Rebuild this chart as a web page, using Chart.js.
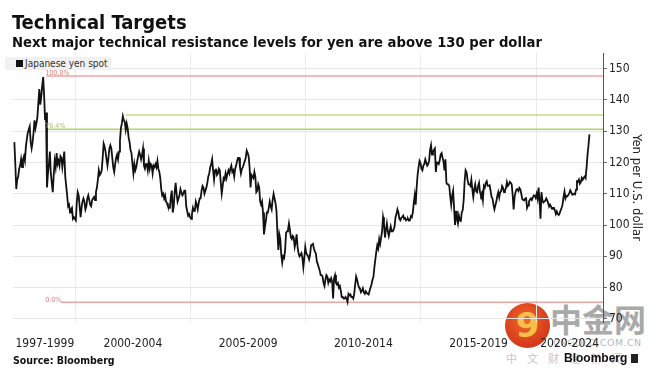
<!DOCTYPE html>
<html>
<head>
<meta charset="utf-8">
<script src="https://cdn.jsdelivr.net/npm/chart.js@4/dist/chart.umd.min.js"></script>
<style>
  body { margin: 0; background: #fff; }
  #wrap { position: relative; width: 661px; height: 375px; overflow: hidden; background: #fff; font-family: "DejaVu Sans Condensed", "DejaVu Sans", sans-serif; }
  #chart { position: absolute; left: 0; top: 0; z-index: 2; }
  .txt { position: absolute; white-space: nowrap; z-index: 3; }
  #title { left: 12px; top: 12px; font-size: 20px; line-height: 20px; font-weight: bold; color: #111; }
  #subtitle { left: 12px; top: 35px; font-size: 14.7px; line-height: 14px; font-weight: bold; color: #111; }
  #source { left: 13px; top: 355px; font-size: 10.5px; line-height: 11px; font-weight: bold; color: #111; }
  #legend { position: absolute; left: 5px; top: 57px; width: 106px; height: 13px; background: #f1f1f1; z-index: 3; }
  #legend .sq { position: absolute; left: 11px; top: 3px; width: 7px; height: 7px; background: #111; }
  #legend .lb { position: absolute; left: 20px; top: 1px; font-size: 10px; line-height: 11px; color: #333; }
  .wm { position: absolute; white-space: nowrap; z-index: 1; }
  #logo { left: 505px; top: 303px; width: 45px; height: 45px; border-radius: 50%;
          background: radial-gradient(circle at 45% 40%, #ef6a2a, #d5381b 70%); }
  #logo span { position: absolute; left: 0; top: 2px; width: 45px; text-align: center; font: bold 34px/40px "DejaVu Sans", sans-serif; color: #f8c04a; }
  #zjw { left: 550px; top: 301px; font: bold 32px/34px "Noto Sans CJK SC", sans-serif; color: #a9a9a9; }
  #dom { left: 553px; top: 338px; font: 9.5px/10px "DejaVu Sans", sans-serif; color: #b9b9b9; letter-spacing: 0.4px; }
  #cjk { left: 506px; top: 352px; font: 11px/12px "Noto Sans CJK SC", sans-serif; color: #c6c6c6; letter-spacing: 10px; }
  #bbg { left: 564px; top: 352px; font: bold 12px/13px "Liberation Sans", Arial, sans-serif; color: #111; z-index: 3; }
  #bbgIcon { position: absolute; left: 631px; top: 354px; width: 7px; height: 9px; background: #222; z-index: 3; }
</style>
</head>
<body>
<div id="wrap">
  <div id="logo" class="wm"><span>9</span></div>
  <div id="zjw" class="wm">中金网</div>
  <div id="dom" class="wm">CNGOLD.COM.CN</div>
  <div id="cjk" class="wm">中文财经新闻</div>
  <canvas id="chart" width="661" height="375"></canvas>
  <div id="title" class="txt">Technical Targets</div>
  <div id="subtitle" class="txt">Next major technical resistance levels for yen are above 130 per dollar</div>
  <div id="legend"><div class="sq"></div><div class="lb">Japanese yen spot</div></div>
  <div id="source" class="txt">Source: Bloomberg</div>
  <div id="bbg" class="txt">Bloomberg</div>
  <div id="bbgIcon"></div>
</div>
<script>
// Yen per dollar, two readings per month (first half, second half)
const y1997 = [126.5, 119.5, 111.5, 114.5, 115.5, 118.0, 119.0, 121.0, 118.5, 121.0, 122.0, 120.5, 125.0, 127.5, 129.5, 130.5]; // from May
const y1998 = [131.5, 126.5, 124.5, 126.5, 129.5, 133.5, 131.0, 132.5, 134.5, 139.0, 143.5, 138.5, 141.0, 144.5, 147.3, 141.5, 133.5, 136.0, 112.0, 116.5, 119.5, 123.5, 116.5, 113.5];
const y1999 = [110.5, 116.0, 120.5, 118.5, 123.0, 119.5, 120.5, 119.0, 122.0, 121.5, 118.5, 121.0, 123.5, 115.5, 112.5, 109.5, 106.0, 106.5, 104.0, 105.0, 105.5, 102.0, 102.5, 102.0];
const y2000 = [101.5, 107.0, 110.5, 109.5, 106.0, 102.5, 105.5, 107.5, 108.5, 107.5, 105.0, 106.0, 108.5, 109.5, 108.0, 106.5, 106.0, 108.0, 108.5, 109.0, 108.0, 110.5, 112.0, 114.5];
const y2001 = [117.5, 116.0, 116.5, 117.5, 121.5, 126.0, 125.0, 123.5, 121.0, 119.0, 121.5, 124.5, 125.5, 124.5, 121.5, 118.5, 117.0, 119.5, 121.5, 122.5, 121.0, 123.5, 127.0, 131.0];
const y2002 = [132.5, 134.8, 133.5, 133.0, 130.5, 132.5, 131.0, 128.0, 126.5, 124.0, 123.0, 119.5, 116.5, 119.5, 117.5, 118.5, 120.5, 122.0, 123.5, 122.5, 121.0, 122.5, 124.5, 119.0];
const y2003 = [118.0, 119.5, 119.5, 117.5, 120.5, 118.0, 119.5, 119.0, 116.5, 119.0, 118.5, 119.5, 118.5, 120.5, 118.0, 117.0, 115.0, 111.5, 109.5, 110.0, 108.5, 109.5, 107.5, 107.0];
const y2004 = [106.0, 105.5, 105.5, 109.0, 111.0, 104.0, 106.0, 110.5, 113.5, 110.0, 107.5, 108.5, 109.5, 111.5, 110.5, 109.5, 110.0, 111.0, 111.0, 106.0, 104.5, 103.0, 103.5, 102.5];
const y2005 = [102.0, 103.5, 105.5, 104.5, 104.5, 107.5, 106.5, 105.0, 107.0, 108.5, 108.5, 111.0, 112.5, 112.0, 110.0, 111.0, 112.0, 113.5, 115.5, 116.5, 118.5, 119.5, 121.0, 117.5];
const y2006 = [114.5, 117.5, 118.0, 116.0, 116.5, 118.0, 117.5, 113.5, 110.0, 112.5, 115.0, 114.5, 116.5, 115.0, 116.5, 117.5, 116.5, 118.0, 119.0, 117.0, 117.5, 115.5, 118.0, 119.0];
const y2007 = [120.5, 121.5, 121.5, 118.5, 116.5, 118.0, 118.5, 119.5, 120.5, 121.5, 123.8, 123.0, 122.0, 118.5, 112.0, 116.0, 115.5, 115.0, 117.0, 115.5, 110.5, 111.0, 113.0, 112.0];
const y2008 = [107.5, 106.5, 107.5, 104.0, 97.0, 99.5, 101.5, 104.0, 104.0, 105.5, 107.5, 106.0, 105.0, 108.0, 110.0, 108.5, 107.0, 104.5, 97.5, 92.0, 97.0, 95.5, 90.5, 88.0];
const y2009 = [90.0, 89.5, 92.0, 97.5, 98.0, 98.5, 100.5, 98.5, 96.0, 95.5, 96.5, 96.0, 93.0, 94.5, 97.0, 93.0, 91.0, 90.0, 90.5, 91.0, 89.5, 86.5, 89.5, 93.0];
const y2010 = [91.0, 90.5, 90.0, 89.0, 90.5, 93.5, 93.5, 94.0, 92.5, 91.5, 91.0, 88.5, 87.5, 86.5, 85.5, 84.0, 84.0, 83.5, 81.5, 80.5, 82.5, 84.0, 83.5, 81.5];
const y2011 = [82.5, 82.0, 83.0, 82.0, 76.5, 83.0, 84.0, 81.5, 81.0, 81.5, 80.0, 80.5, 79.0, 77.0, 77.0, 76.5, 76.5, 77.0, 76.5, 75.4, 78.0, 77.5, 77.8, 77.0];
const y2012 = [77.0, 76.5, 78.0, 81.0, 83.5, 82.5, 81.0, 80.0, 79.5, 78.5, 79.0, 79.8, 78.5, 78.0, 78.8, 78.3, 78.0, 77.8, 79.0, 80.0, 81.0, 82.5, 83.5, 86.5];
const y2013 = [89.0, 91.5, 93.5, 92.5, 95.5, 94.0, 96.0, 98.0, 102.5, 100.5, 96.0, 98.5, 100.5, 98.0, 96.5, 98.0, 99.5, 98.0, 98.0, 98.5, 99.5, 102.5, 103.5, 105.0];
const y2014 = [104.0, 102.0, 101.5, 102.3, 102.5, 103.0, 102.0, 102.2, 101.5, 101.8, 102.0, 101.4, 101.5, 102.8, 102.5, 104.0, 107.0, 109.5, 106.5, 112.0, 116.0, 118.5, 120.5, 119.8];
const y2015 = [118.0, 117.5, 119.0, 119.5, 121.0, 120.0, 119.0, 119.5, 120.5, 124.0, 125.5, 122.5, 123.5, 124.0, 124.5, 117.0, 120.0, 119.9, 119.5, 120.6, 122.5, 123.0, 121.5, 120.3];
const y2016 = [117.5, 121.0, 113.5, 113.0, 113.0, 112.5, 109.0, 106.5, 109.5, 111.0, 105.5, 100.0, 104.5, 102.0, 100.5, 103.0, 101.5, 101.3, 104.0, 104.8, 108.0, 114.0, 117.5, 116.9];
const y2017 = [114.5, 113.0, 113.0, 112.5, 114.5, 111.5, 109.0, 111.5, 113.0, 110.8, 110.5, 112.5, 113.5, 110.5, 109.5, 110.3, 108.0, 112.5, 112.0, 113.5, 114.0, 112.5, 112.5, 112.7];
const y2018 = [111.0, 109.0, 108.5, 106.5, 105.0, 106.3, 107.5, 109.3, 110.5, 108.8, 110.5, 110.8, 112.5, 111.9, 110.5, 111.0, 111.8, 113.7, 112.5, 112.9, 113.8, 113.5, 113.0, 109.7];
const y2019 = [105.0, 108.9, 110.5, 111.4, 111.5, 110.9, 111.9, 111.4, 110.0, 108.3, 108.0, 107.9, 108.5, 108.6, 105.5, 106.3, 107.5, 108.1, 108.5, 108.0, 108.8, 109.5, 109.4, 108.7];
const y2020 = [110.0, 108.4, 112.0, 107.9, 102.0, 110.5, 108.0, 107.2, 107.5, 107.8, 108.5, 107.9, 107.0, 105.9, 106.5, 105.9, 105.2, 105.5, 105.5, 104.7, 103.5, 104.3, 103.5, 103.2];
const y2021 = [103.8, 104.7, 105.5, 106.6, 109.0, 110.7, 108.5, 109.3, 109.2, 109.6, 110.2, 111.1, 110.5, 109.7, 109.7, 110.0, 109.8, 111.3, 114.0, 113.9, 114.5, 113.2, 113.7, 115.1];
const y2022 = [114.5, 115.1, 115.5, 115.0, 118.5, 122.5, 125.5, 129.0]; // to April

const yearSeries = [y1997, y1998, y1999, y2000, y2001, y2002, y2003, y2004, y2005, y2006, y2007, y2008, y2009,
  y2010, y2011, y2012, y2013, y2014, y2015, y2016, y2017, y2018, y2019, y2020, y2021, y2022];
const firstYear = 1997;
const firstMonth = 4; // May 1997

// Fibonacci levels (100% = 1998 high, 0% = 2011 low) and where each line starts
const fibLevels = [147.66, 135.15, 130.6, 75.35];
const fibStart = [1998.75, 2002.17, 1998.75, 1999.37];
const fibLabels = ['100.0%', '', '76.4%', '0.0%'];
const fibColors = ['#eba5a5', '#c3dd86', '#b2d271', '#eba5a5'];

// x axis: period labels sit between the five-year grid lines
const gridYears = [2000, 2005, 2010, 2015, 2020];
const periodAt = [1998.68, 2002.5, 2007.5, 2012.5, 2017.5, 2021.45];
const periodLabels = ['1997-1999', '2000-2004', '2005-2009', '2010-2014', '2015-2019', '2020-2024'];

const xMin = 1997.3, xMax = 2022.9;
const yMin = 69, yMax = 155;

const spot = [];
yearSeries.forEach((vals, yi) => {
  const m0 = yi === 0 ? firstMonth : 0;
  vals.forEach((v, i) => {
    const month = m0 + Math.floor(i / 2);
    const half = i % 2;
    spot.push({ x: firstYear + yi + (month + 0.25 + half * 0.5) / 12, y: v });
  });
});

const fibSets = fibLevels.map((lvl, i) => ({
  data: [{ x: fibStart[i], y: lvl }, { x: xMax, y: lvl }],
  borderColor: fibColors[i],
  borderWidth: 1.5,
  pointRadius: 0,
  fill: false
}));

// small percentage tags at the left end of the Fibonacci lines
const fibLabelPlugin = {
  id: 'fibLabels',
  afterDatasetsDraw(chart) {
    const { ctx, scales: { x, y } } = chart;
    ctx.save();
    ctx.font = '7px "DejaVu Sans Condensed", sans-serif';
    ctx.textBaseline = 'alphabetic';
    fibLabels.forEach((t, i) => {
      if (!t) return;
      const px = x.getPixelForValue(1998.7);
      const py = y.getPixelForValue(fibLevels[i]);
      ctx.fillStyle = i === 2 ? '#a9c860' : '#e07e7e';
      ctx.fillText(t, px, i === 3 ? py : py - 1);
    });
    ctx.restore();
  }
};

new Chart(document.getElementById('chart'), {
  type: 'line',
  data: {
    datasets: [{
      label: 'Japanese yen spot',
      data: spot,
      borderColor: '#111',
      borderWidth: 1.8,
      pointRadius: 0,
      tension: 0,
      fill: false
    }, ...fibSets]
  },
  options: {
    responsive: false,
    animation: false,
    events: [],
    layout: { padding: { top: 53, left: 9, right: 0, bottom: 0 } },
    plugins: { legend: { display: false }, tooltip: { enabled: false } },
    scales: {
      x: {
        type: 'linear',
        min: xMin,
        max: xMax,
        afterBuildTicks: (scale) => {
          scale.ticks = [...gridYears, ...periodAt].sort((a, b) => a - b).map(v => ({ value: v }));
        },
        afterFit: (scale) => { scale.height = 53; },
        border: { display: false },
        grid: {
          drawTicks: false,
          color: (c) => (c.tick && gridYears.includes(c.tick.value)) ? '#ebebeb' : 'rgba(0,0,0,0)'
        },
        ticks: {
          autoSkip: false,
          maxRotation: 0,
          padding: 15,
          color: '#222',
          font: { family: '"DejaVu Sans Condensed", sans-serif', size: 12 },
          callback: (v) => {
            const i = periodAt.indexOf(v);
            return i >= 0 ? periodLabels[i] : '';
          }
        }
      },
      y: {
        position: 'right',
        min: yMin,
        max: yMax,
        afterBuildTicks: (scale) => {
          const t = [];
          for (let v = 70; v <= 155; v += 5) t.push({ value: v });
          scale.ticks = t;
        },
        afterFit: (scale) => { scale.width = 58; },
        border: { display: true, color: '#555', width: 1 },
        grid: {
          color: (c) => (c.tick && c.tick.value % 10 === 0) ? '#e6e6e6' : 'rgba(0,0,0,0)',
          tickColor: '#666',
          tickLength: 4
        },
        ticks: {
          padding: 2,
          color: '#222',
          font: { family: '"DejaVu Sans Condensed", sans-serif', size: 12 },
          callback: (v) => v % 10 === 0 ? String(v) : ''
        },
        title: {
          display: true,
          text: 'Yen per U.S. dollar',
          color: '#222',
          font: { family: '"DejaVu Sans Condensed", sans-serif', size: 13 },
          padding: { top: 17, bottom: 0 }
        }
      }
    }
  },
  plugins: [fibLabelPlugin]
});
</script>
</body>
</html>
